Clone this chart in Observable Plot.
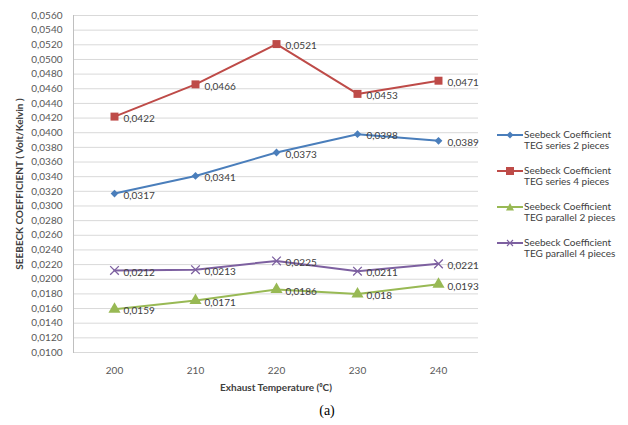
<!DOCTYPE html>
<html><head><meta charset="utf-8">
<script src="https://cdn.jsdelivr.net/npm/d3@7"></script>
<script src="https://cdn.jsdelivr.net/npm/@observablehq/plot@0.6"></script>
<style>
body{margin:0;background:#fff;font-family:Lato,sans-serif;}
#wrap{position:relative;width:628px;height:425px;overflow:hidden;}
#legend{position:absolute;left:497px;top:129px;font-size:10px;color:#404040;font-family:Lato,sans-serif;}
.item{display:flex;align-items:flex-start;height:36px;}
.item svg{margin-top:1px;flex:none}
.lbl{line-height:11px;margin-left:1px;white-space:nowrap}
#cap{position:absolute;top:403px;left:300px;width:54px;text-align:center;font-family:"Liberation Serif","DejaVu Serif",serif;font-size:14px;color:#000;}
g[aria-label="y-axis label"] text, g[aria-label="x-axis label"] text{font-weight:bold;fill:#404040;}
</style>
</head><body>
<div id="wrap"><div id="chart"></div><div id="legend"></div><div id="cap">(a)</div></div>
<script>
const temps = [200, 210, 220, 230, 240];
const series2 = [0.0317, 0.0341, 0.0373, 0.0398, 0.0389];
const series4 = [0.0422, 0.0466, 0.0521, 0.0453, 0.0471];
const parallel2 = [0.0159, 0.0171, 0.0186, 0.018, 0.0193];
const parallel4 = [0.0212, 0.0213, 0.0225, 0.0211, 0.0221];
const seriesNames = [
  ["Seebeck Coefficient", "TEG series 2 pieces"],
  ["Seebeck Coefficient", "TEG series 4 pieces"],
  ["Seebeck Coefficient", "TEG parallel 2 pieces"],
  ["Seebeck Coefficient", "TEG parallel 4 pieces"]
];
const yTicks = d3.range(0, 24).map(i => +(0.010 + i * 0.002).toFixed(4));

const colors = ["#4a7ebb", "#be4b48", "#98b954", "#7d60a0"];
const symbols = ["diamond2", "square", "triangle", "times"];
const radii = [3.5, 4.5, 4.5, 4];
const allValues = [series2, series4, parallel2, parallel4];

const fmtTick = v => v.toFixed(4).replace(".", ",");
const fmtLabel = v => String(v).replace(".", ",");

const marks = [
  Plot.ruleY(yTicks, {stroke: "#d9d9d9", strokeWidth: 1}),
  Plot.frame({anchor: "left", stroke: "#bfbfbf"})
];
allValues.forEach((vals, k) => {
  const data = temps.map((t, i) => ({t, v: vals[i]}));
  marks.push(Plot.line(data, {x: "t", y: "v", stroke: colors[k], strokeWidth: 2, curve: "linear"}));
  if (symbols[k] === "times") {
    marks.push(Plot.dot(data, {x: "t", y: "v", symbol: "times", r: radii[k], stroke: colors[k], strokeWidth: 1.3, fill: "none"}));
  } else {
    marks.push(Plot.dot(data, {x: "t", y: "v", symbol: symbols[k], r: radii[k], fill: colors[k], stroke: "none"}));
  }
  marks.push(Plot.text(data, {x: "t", y: "v", text: d => fmtLabel(d.v), dx: 9, dy: 2, textAnchor: "start", fill: "#404040", fontSize: 10}));
});
marks.push(Plot.axisX({tickSize: 0, tickPadding: 14, label: "Exhaust Temperature (⁰C)", labelAnchor: "center", labelArrow: "none", labelOffset: 38, fill: "#595959"}));
marks.push(Plot.axisY({ticks: yTicks, tickFormat: fmtTick, tickSize: 0, tickPadding: 11, label: "SEEBECK COEFFICIENT ( Volt/Kelvin )", labelAnchor: "center", labelArrow: "none", labelOffset: 58, fill: "#595959"}));

const chart = Plot.plot({
  width: 628,
  height: 400,
  marginLeft: 73,
  marginRight: 150,
  marginTop: 15,
  marginBottom: 48,
  style: {fontFamily: "Lato, sans-serif", fontSize: "10px", color: "#595959", background: "#fff"},
  x: {type: "point", domain: temps, padding: 0.5},
  y: {domain: [0.010, 0.056]},
  marks
});
document.getElementById("chart").appendChild(chart);

// legend
const legend = document.getElementById("legend");
seriesNames.forEach((name, k) => {
  const c = colors[k];
  let sym = "";
  if (symbols[k] === "diamond2") sym = `<path d="M13,1.5L16.5,5L13,8.5L9.5,5Z" fill="${c}"/>`;
  else if (symbols[k] === "square") sym = `<rect x="9" y="1" width="8" height="8" fill="${c}"/>`;
  else if (symbols[k] === "triangle") sym = `<path d="M13,1L17,8.5L9,8.5Z" fill="${c}"/>`;
  else sym = `<path d="M10,2L16,8M16,2L10,8" stroke="${c}" stroke-width="1.2"/>`;
  const div = document.createElement("div");
  div.className = "item";
  div.innerHTML = `<svg width="26" height="10"><line x1="0" y1="5" x2="26" y2="5" stroke="${c}" stroke-width="2"/>${sym}</svg><div class="lbl">${name[0]}<br>${name[1]}</div>`;
  legend.appendChild(div);
});
</script>
</body></html>
